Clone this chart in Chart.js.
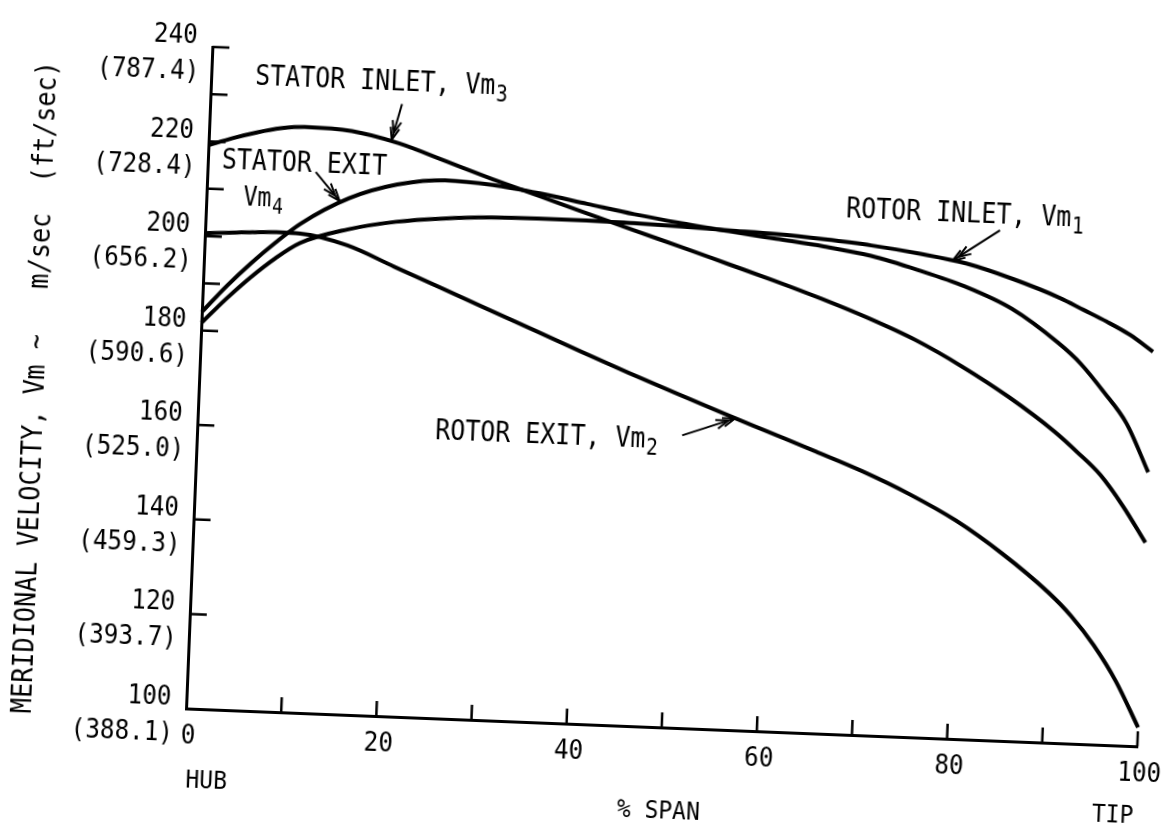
<!DOCTYPE html>
<html>
<head>
<meta charset="utf-8">
<title>Meridional velocity vs. span</title>
<script src="https://cdn.jsdelivr.net/npm/chart.js@4.4.1/dist/chart.umd.min.js"></script>
<style>
  html, body { margin: 0; padding: 0; background: #fff; overflow: hidden; width: 1166px; height: 832px; }
  /* the whole sheet sits slightly turned, as on the printed page */
  #sheet { position: absolute; left: -50px; top: -50px; width: 1266px; height: 932px;
           transform: rotate(2.28deg); transform-origin: 633px 466px; }
  canvas { display: block; }
</style>
</head>
<body>
<div id="sheet"><canvas id="chart" width="1266" height="932"></canvas></div>
<script>
// % span stations (hub = 0, tip = 100)
const span = [0, 2.5, 5, 7.5, 10, 15, 20, 25, 30, 35, 40, 45, 50, 55, 60, 65, 70, 75, 80, 85, 90, 92.5, 95, 97.5, 100];

// meridional velocity, m/sec
const rotorInlet  = [181.6, 186.9, 191.7, 195.9, 199.3, 202.6, 204.6, 205.7, 206.3, 206.5, 206.5, 206.3, 206.0, 205.6, 205.2, 204.5, 203.6, 202.3, 200.6, 197.7, 194.1, 191.8, 189.5, 186.9, 183.5];
const rotorExit   = [200.6, 200.9, 201.2, 201.4, 201.3, 199.2, 195.1, 191.0, 186.9, 182.8, 178.7, 174.7, 170.8, 167.0, 163.3, 159.6, 155.8, 151.4, 146.2, 139.6, 131.8, 127.0, 121.0, 113.5, 104.0];
const statorInlet = [219.2, 220.9, 222.3, 223.4, 223.9, 223.4, 221.2, 217.8, 214.4, 211.2, 208.0, 204.8, 201.7, 198.5, 195.3, 191.9, 188.2, 184.0, 178.8, 172.8, 165.8, 161.6, 157.0, 150.6, 143.1];
const statorExit  = [183.9, 189.6, 194.7, 199.3, 203.4, 209.2, 212.5, 213.8, 213.2, 211.8, 210.0, 208.2, 206.7, 205.4, 204.2, 203.0, 201.4, 198.8, 195.7, 191.4, 184.6, 180.3, 174.6, 168.2, 158.0];

// axis ticks and their labels
const yLabelValues = [240, 220, 200, 180, 160, 140, 120, 100];
const yLabelFeet   = ['(787.4)', '(728.4)', '(656.2)', '(590.6)', '(525.0)', '(459.3)', '(393.7)', '(388.1)'];
const yMarkValues  = [240, 230, 220, 210, 200, 190, 180, 160, 140, 120];
const xLabelValues = [0, 20, 40, 60, 80, 100];
const xMarkValues  = [10, 20, 30, 40, 50, 60, 70, 80, 90, 100];

// curve call-outs: text, subscript, arrow tip (span %, m/sec)
const callouts = [
  { text: 'STATOR INLET, Vm', sub: '3', tipX: 19.2, tipY: 221.9 },
  { text: 'STATOR EXIT',      sub: '',  tipX: 14.0, tipY: 208.5 },
  { text: 'ROTOR INLET, Vm',  sub: '1', tipX: 78.6, tipY: 201.1 },
  { text: 'ROTOR EXIT, Vm',   sub: '2', tipX: 56.4, tipY: 165.9 }
];

const FONT = '"DejaVu Sans Mono", "Liberation Mono", monospace';

function put(ctx, s, x, y, size, align, squeeze) {
  const k = squeeze || 0.88;
  ctx.save();
  ctx.font = size + 'px ' + FONT;
  ctx.textBaseline = 'middle';
  ctx.textAlign = align || 'left';
  ctx.translate(x, y);
  ctx.scale(k, 1);
  ctx.fillText(s, 0, 0);
  const w = ctx.measureText(s).width * k;
  ctx.restore();
  return w;
}

function putSub(ctx, main, sub, x, y, size, squeeze) {
  const w = put(ctx, main, x, y, size, 'left', squeeze);
  if (sub) put(ctx, sub, x + w + 1, y + size * 0.32, size * 0.78, 'left', squeeze);
}

function arrow(ctx, x0, y0, x1, y1) {
  const a = Math.atan2(y1 - y0, x1 - x0);
  ctx.save();
  ctx.strokeStyle = '#000';
  ctx.lineWidth = 2;
  ctx.beginPath();
  ctx.moveTo(x0, y0);
  ctx.lineTo(x1, y1);
  ctx.stroke();
  for (const back of [0, 7]) {
    const bx = x1 - back * Math.cos(a), by = y1 - back * Math.sin(a);
    ctx.beginPath();
    ctx.moveTo(bx, by);
    ctx.lineTo(bx - 13 * Math.cos(a - 0.35), by - 13 * Math.sin(a - 0.35));
    ctx.moveTo(bx, by);
    ctx.lineTo(bx - 13 * Math.cos(a + 0.35), by - 13 * Math.sin(a + 0.35));
    ctx.stroke();
  }
  ctx.restore();
}

const decor = {
  id: 'decor',
  afterDraw(chart) {
    const ctx = chart.ctx;
    const xs = chart.scales.x, ys = chart.scales.y;
    const area = chart.chartArea;
    ctx.save();
    ctx.fillStyle = '#000';
    ctx.strokeStyle = '#000';
    ctx.lineWidth = 2.5;

    // inward tick marks
    ctx.beginPath();
    for (const v of yMarkValues) {
      const p = ys.getPixelForValue(v);
      ctx.moveTo(area.left, p);
      ctx.lineTo(area.left + 17, p);
    }
    for (const v of xMarkValues) {
      const p = xs.getPixelForValue(v);
      ctx.moveTo(p, area.bottom);
      ctx.lineTo(p, area.bottom - 15);
    }
    ctx.stroke();

    // y labels: m/sec over (ft/sec)
    yLabelValues.forEach((v, i) => {
      const p = ys.getPixelForValue(v);
      put(ctx, String(v), area.left - 15, p - 10, 27, 'right', 0.9);
      put(ctx, yLabelFeet[i], area.left - 12, p + 26, 27, 'right', 0.9);
    });

    // x labels
    xLabelValues.forEach(v => {
      const p = xs.getPixelForValue(v);
      put(ctx, String(v), p + 3, area.bottom + 28, 27, 'center', 0.9);
    });
    put(ctx, 'HUB', xs.getPixelForValue(0) + 23, area.bottom + 72, 25, 'center', 0.92);
    put(ctx, 'TIP', xs.getPixelForValue(100) - 22, area.bottom + 70, 25, 'center', 0.92);
    put(ctx, '% SPAN', xs.getPixelForValue(50), area.bottom + 84, 25, 'center', 0.92);

    // y title
    ctx.save();
    ctx.translate(area.left - 162, (area.top + area.bottom) / 2 + 16);
    ctx.rotate(-Math.PI / 2);
    put(ctx, 'MERIDIONAL VELOCITY, Vm ~   m/sec  (ft/sec)', 0, 0, 28, 'center', 0.9);
    ctx.restore();

    // call-outs
    const si = callouts[0], se = callouts[1], ri = callouts[2], re = callouts[3];
    putSub(ctx, si.text, si.sub, area.left + 44, area.top + 28, 29, 0.86);
    putSub(ctx, se.text, se.sub, area.left + 14, area.top + 113, 29, 0.86);
    putSub(ctx, 'Vm', '4', area.left + 37, area.top + 150, 27, 0.86);
    putSub(ctx, ri.text, ri.sub, xs.getPixelForValue(67.2), area.top + 137, 29, 0.86);
    putSub(ctx, re.text, re.sub, xs.getPixelForValue(25), area.top + 375, 29, 0.86);

    const tip = c => [xs.getPixelForValue(c.tipX), ys.getPixelForValue(c.tipY)];
    let t;
    t = tip(si); arrow(ctx, t[0] + 9, t[1] - 36, t[0], t[1]);
    t = tip(se); arrow(ctx, t[0] - 25, t[1] - 28, t[0], t[1]);
    t = tip(ri); arrow(ctx, t[0] + 46, t[1] - 32, t[0], t[1]);
    t = tip(re); arrow(ctx, t[0] - 52, t[1] + 19, t[0], t[1]);

    ctx.restore();
  }
};

const series = (vals) => span.map((x, i) => ({ x, y: vals[i] }));
const lineStyle = { borderColor: '#000', borderWidth: 4, pointRadius: 0, fill: false,
                    cubicInterpolationMode: 'monotone', clip: false };

new Chart(document.getElementById('chart'), {
  type: 'line',
  data: {
    datasets: [
      Object.assign({ label: 'Rotor inlet, Vm1',  data: series(rotorInlet)  }, lineStyle),
      Object.assign({ label: 'Rotor exit, Vm2',   data: series(rotorExit)   }, lineStyle),
      Object.assign({ label: 'Stator inlet, Vm3', data: series(statorInlet) }, lineStyle),
      Object.assign({ label: 'Stator exit, Vm4',  data: series(statorExit)  }, lineStyle)
    ]
  },
  options: {
    responsive: false,
    animation: false,
    events: [],
    layout: { padding: { left: 248, top: 112, right: 66, bottom: 158 } },
    plugins: { legend: { display: false }, tooltip: { enabled: false } },
    scales: {
      x: { type: 'linear', min: 0, max: 100,
           grid: { display: false, drawTicks: false },
           border: { display: true, color: '#000', width: 3 },
           ticks: { display: false } },
      y: { type: 'linear', min: 100, max: 240,
           grid: { display: false, drawTicks: false },
           border: { display: true, color: '#000', width: 3 },
           ticks: { display: false } }
    }
  },
  plugins: [decor]
});
</script>
</body>
</html>
